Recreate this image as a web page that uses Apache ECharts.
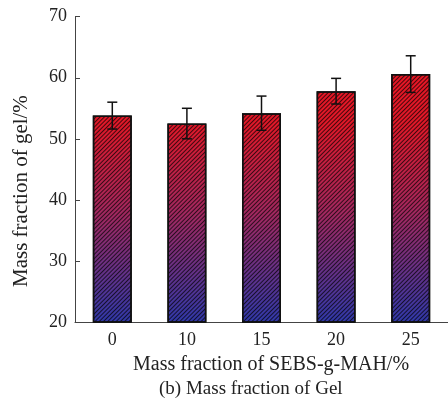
<!DOCTYPE html>
<html><head><meta charset="utf-8">
<script src="https://cdn.jsdelivr.net/npm/echarts@6/dist/echarts.min.js"></script>
<style>html,body{margin:0;padding:0;background:#fff}#c{width:448px;height:401px}</style>
</head><body><div id="c"></div>
<script>
var categories = ['0', '10', '15', '20', '25'];
var gelValues = [53.8, 52.5, 54.2, 57.8, 60.6];
var gelErrors = [2.2, 2.5, 2.8, 2.1, 3.0];
var yTicks = [20, 30, 40, 50, 60, 70];

var chart = echarts.init(document.getElementById('c'));
var font = 'Liberation Serif';
var grad = {type:'linear', x:0, y:16, x2:0, y2:322, global:true,
  colorStops:[{offset:0,color:'#f01420'},{offset:0.35,color:'#e01828'},{offset:0.65,color:'#a02860'},{offset:1,color:'#3038a8'}]};
chart.setOption({
  animation:false,
  grid:{left:75, right:-4, top:16.7, bottom:79},
  xAxis:{type:'category', data:categories,
    axisLine:{lineStyle:{color:'#444', width:1}},
    axisTick:{inside:true, alignWithLabel:true, length:4, lineStyle:{color:'#444'}},
    axisLabel:{fontFamily:font, fontSize:18, color:'#222', margin:9}},
  yAxis:{type:'value', min:yTicks[0], max:yTicks[yTicks.length-1], interval:10,
    splitLine:{show:false},
    axisLine:{show:true, lineStyle:{color:'#444', width:1}},
    axisTick:{show:true, inside:true, length:5, lineStyle:{color:'#444'}},
    axisLabel:{fontFamily:font, fontSize:18, color:'#222', margin:8}},
  graphic:[
    {type:'text', x:133, y:355, style:{text:'Mass fraction of SEBS-g-MAH/%', font:'20px "Liberation Serif"', fill:'#222'}},
    {type:'text', x:159, y:380, style:{text:'(b) Mass fraction of Gel', font:'19px "Liberation Serif"', fill:'#222'}},
    {type:'text', x:11, y:287, rotation:Math.PI/2, style:{text:'Mass fraction of gel/%', font:'21px "Liberation Serif"', fill:'#222', textVerticalAlign:'top'}}
  ],
  series:[
    {type:'bar', data:gelValues, barWidth:39,
      itemStyle:{color:grad, borderColor:'#111', borderWidth:1.5,
        decal:{symbol:'rect', symbolSize:1, color:'rgba(0,0,0,0.7)', dashArrayX:[1,0], dashArrayY:[1,2], rotation:-Math.PI/4}}},
    {type:'custom', data:gelValues.map(function(v,i){return [i, v-gelErrors[i], v+gelErrors[i]];}),
      renderItem:function(params, api){
        var lo = api.coord([api.value(0), api.value(1)]);
        var hi = api.coord([api.value(0), api.value(2)]);
        var x = lo[0], w = 5;
        var st = {stroke:'#111', lineWidth:1.5};
        return {type:'group', children:[
          {type:'line', shape:{x1:x, y1:lo[1], x2:x, y2:hi[1]}, style:st},
          {type:'line', shape:{x1:x-w, y1:lo[1], x2:x+w, y2:lo[1]}, style:st},
          {type:'line', shape:{x1:x-w, y1:hi[1], x2:x+w, y2:hi[1]}, style:st}
        ]};
      }, z:10}
  ]
});
</script></body></html>
